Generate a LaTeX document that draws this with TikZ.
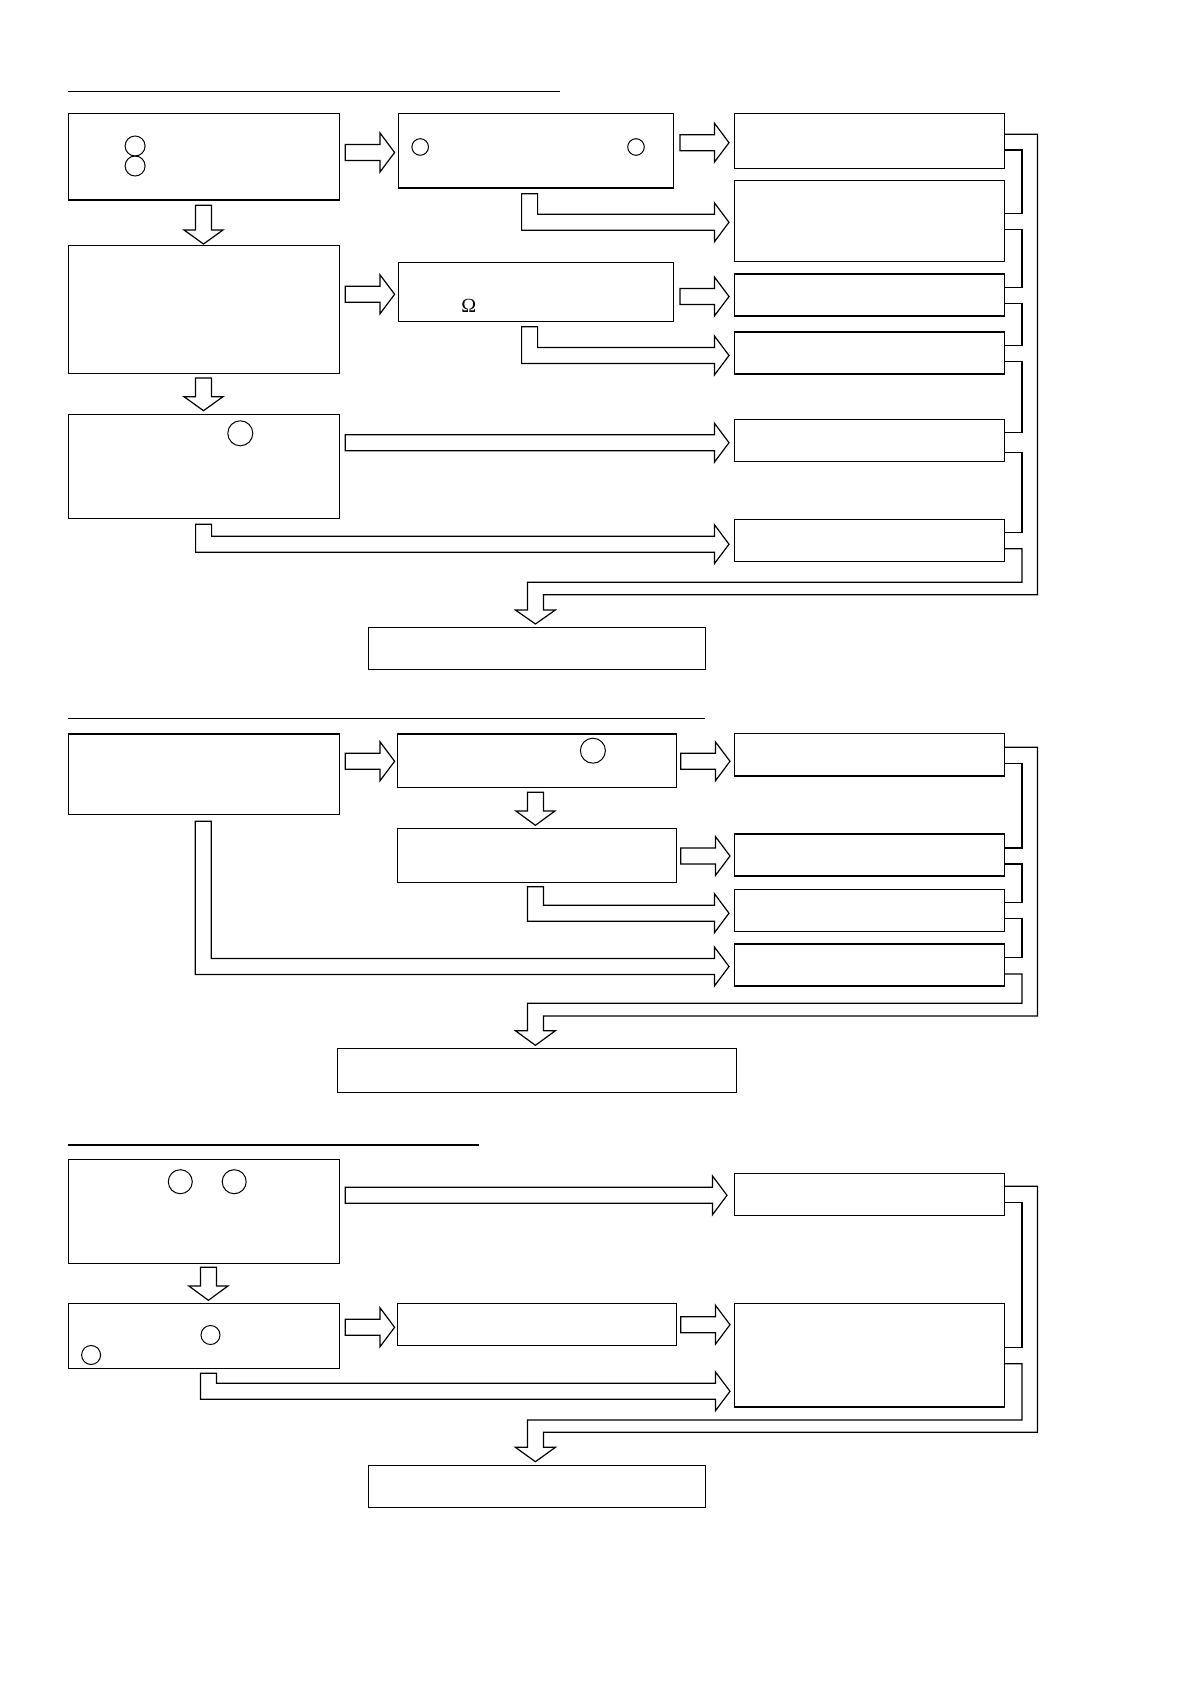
\documentclass[tikz,border=0pt]{standalone}
\usepackage{fontspec}
\setmainfont{Liberation Serif}
\usetikzlibrary{fit}
\newcommand\blkR[3]{\draw[arr] (#1,{#3-8}) -- ({#2-14.6},{#3-8}) -- ({#2-14.6},{#3-19.5}) -- (#2,#3) -- ({#2-14.6},{#3+19.5}) -- ({#2-14.6},{#3+8}) -- (#1,{#3+8}) -- cycle;}
\newcommand\blkD[4]{\draw[arr] ({#1-8},#2) -- ({#1+8},#2) -- ({#1+8},#3) -- ({#1+19.5},#3) -- (#1,#4) -- ({#1-19.5},#3) -- ({#1-8},#3) -- cycle;}
\newcommand\blkE[4]{\draw[arr] (#1,#2) -- ({#1+16},#2) -- ({#1+16},{#3-8}) -- ({#4-14.6},{#3-8}) -- ({#4-14.6},{#3-19.5}) -- (#4,#3) -- ({#4-14.6},{#3+19.5}) -- ({#4-14.6},{#3+8}) -- (#1,{#3+8}) -- cycle;}
\begin{document}
\begin{tikzpicture}[x=0.5pt,y=-0.5pt,
  box/.style={draw,line width=0.6pt,inner sep=0pt,outer sep=0pt},
  arr/.style={draw,line width=0.6pt,line join=miter,fill=white},
  conn/.style={draw,line width=0.6pt,line join=miter},
  rule/.style={draw,line width=0.6pt},
  ring/.style={draw,line width=0.5pt}]
\useasboundingbox (0,0) rectangle (1190,1684);

% ---------------- Section 1 ----------------
\coordinate (L1a) at (68.1,91.3); \coordinate (L1b) at (559.5,91.3);
\draw[rule] (L1a) -- (L1b);
\node[box,fit={(68.1,113.7)(339.4,200)}] (A) {};
\node[box,fit={(398.4,113.7)(673.5,188)}] (B) {};
\node[box,fit={(68.1,245.3)(339.4,373.3)}] (C) {};
\node[box,fit={(398.4,262.3)(673.5,321.3)}] (D) {};
\node[box,fit={(68.1,414.3)(339.4,518.7)}] (E) {};
\node[box,fit={(734.5,113.7)(1004.5,168.7)}] (R1) {};
\node[box,fit={(734.5,180.3)(1004.5,261.3)}] (R2) {};
\node[box,fit={(734.5,274)(1004.5,316)}] (R3) {};
\node[box,fit={(734.5,332)(1004.5,374)}] (R4) {};
\node[box,fit={(734.5,419.3)(1004.5,461.3)}] (R5) {};
\node[box,fit={(734.5,519.3)(1004.5,561.3)}] (R6) {};
\node[box,fit={(368.5,627.3)(705.6,669.3)}] (F) {};

\draw[ring] (135.1,146) circle[radius=10];
\draw[ring] (135.1,166) circle[radius=10];
\draw[ring] (420.2,147) circle[radius=8.3];
\draw[ring] (636,147) circle[radius=8.3];
\draw[ring] (240.3,433.3) circle[radius=12.5];
\node[inner sep=0pt,font=\fontsize{10}{12}\selectfont] (om) at (468.8,305.7) {Ω};

\blkR{345.2}{394.6}{152.5}
\blkR{680}{729}{142.7}
\blkR{345.2}{394.6}{294.3}
\blkR{680}{729}{296.5}
\blkR{345.2}{729}{442.7}
\blkD{203.5}{205.3}{230}{244}
\blkD{203.5}{378}{396.7}{410.7}
\blkE{521.6}{193.7}{222.3}{729}
\blkE{521.6}{326.7}{355.5}{729}
\blkE{195.6}{524.3}{544.2}{729}

\draw[conn] (R1.east |- 0,150) -| (1022,213.3) -- (R2.east |- 0,213.3);
\draw[conn] (R2.east |- 0,229.3) -| (1022,287.3) -- (R3.east |- 0,287.3);
\draw[conn] (R3.east |- 0,303.3) -| (1022,345.3) -- (R4.east |- 0,345.3);
\draw[conn] (R4.east |- 0,361.7) -| (1022,432.3) -- (R5.east |- 0,432.3);
\draw[conn] (R5.east |- 0,452.7) -| (1022,532.7) -- (R6.east |- 0,532.7);
\draw[conn] (R6.east |- 0,548.7) -| (1022,582.3) -| (527.4,610) -- (515.4,610) -- (535.4,624) -- (555.4,610) -- (543.4,610) |- (1037.5,594.7) |- (R1.east |- 0,134.3);

% ---------------- Section 2 ----------------
\coordinate (L2a) at (68.1,718.3); \coordinate (L2b) at (704.8,718.3);
\draw[rule] (L2a) -- (L2b);
\node[box,fit={(68.1,734)(339.4,814.3)}] (G) {};
\node[box,fit={(397.6,734)(676.5,787.3)}] (H) {};
\node[box,fit={(397.6,828.7)(676.5,882.3)}] (I) {};
\node[box,fit={(734.5,733.7)(1004.5,776)}] (J) {};
\node[box,fit={(734.5,834)(1004.5,876)}] (K) {};
\node[box,fit={(734.5,889.3)(1004.5,931.3)}] (Lb) {};
\node[box,fit={(734.5,944)(1004.5,986)}] (M) {};
\node[box,fit={(337.5,1048.3)(736.6,1092.3)}] (N) {};

\draw[ring] (592.9,750.7) circle[radius=12.5];

\blkR{345.2}{394.6}{761.3}
\blkR{680.7}{730}{761.3}
\blkR{680.7}{730}{856}
\blkD{535.4}{792.3}{811}{825.3}
\blkE{527.4}{886.7}{913.2}{729}
\blkE{195.2}{821.3}{966.5}{729}

\draw[conn] (J.east |- 0,763.3) -| (1022,848) -- (K.east |- 0,848);
\draw[conn] (K.east |- 0,864) -| (1022,902.7) -- (Lb.east |- 0,902.7);
\draw[conn] (Lb.east |- 0,918.7) -| (1022,957.3) -- (M.east |- 0,957.3);
\draw[conn] (M.east |- 0,974) -| (1022,1003.3) -| (527.4,1030.7) -- (515.4,1030.7) -- (535.4,1045.3) -- (555.4,1030.7) -- (543.4,1030.7) |- (1037.5,1016) |- (J.east |- 0,747.3);

% ---------------- Section 3 ----------------
\coordinate (L3a) at (68.1,1145); \coordinate (L3b) at (478.8,1145);
\draw[rule] (L3a) -- (L3b);
\node[box,fit={(68.1,1159.3)(339.4,1263.3)}] (P) {};
\node[box,fit={(734.5,1173.3)(1004.5,1215.3)}] (Q) {};
\node[box,fit={(68.1,1303.3)(339.4,1368.3)}] (S) {};
\node[box,fit={(397.6,1303.3)(676.5,1345.3)}] (T) {};
\node[box,fit={(734.5,1303.3)(1004.5,1407)}] (U) {};
\node[box,fit={(368.5,1465.3)(705.6,1507.3)}] (V) {};

\draw[ring] (180.3,1181.7) circle[radius=12];
\draw[ring] (234.2,1181.7) circle[radius=12];
\draw[ring] (210.5,1335) circle[radius=9.5];
\draw[ring] (91.1,1355) circle[radius=9.5];

\blkR{345.2}{727}{1195.3}
\blkR{345.2}{394.6}{1327.3}
\blkR{680.7}{730}{1324.7}
\blkD{208.4}{1267.3}{1286}{1300.3}
\blkE{200.5}{1373.3}{1391.3}{730}

\draw[conn] (Q.east |- 0,1202.3) -| (1022,1347.3) -- (U.east |- 0,1347.3);
\draw[conn] (U.east |- 0,1363.7) -| (1022,1420) -| (527.4,1447.3) -- (515.4,1447.3) -- (535.4,1461.7) -- (555.4,1447.3) -- (543.4,1447.3) |- (1037.5,1432.3) |- (Q.east |- 0,1186.3);
\end{tikzpicture}
\end{document}
